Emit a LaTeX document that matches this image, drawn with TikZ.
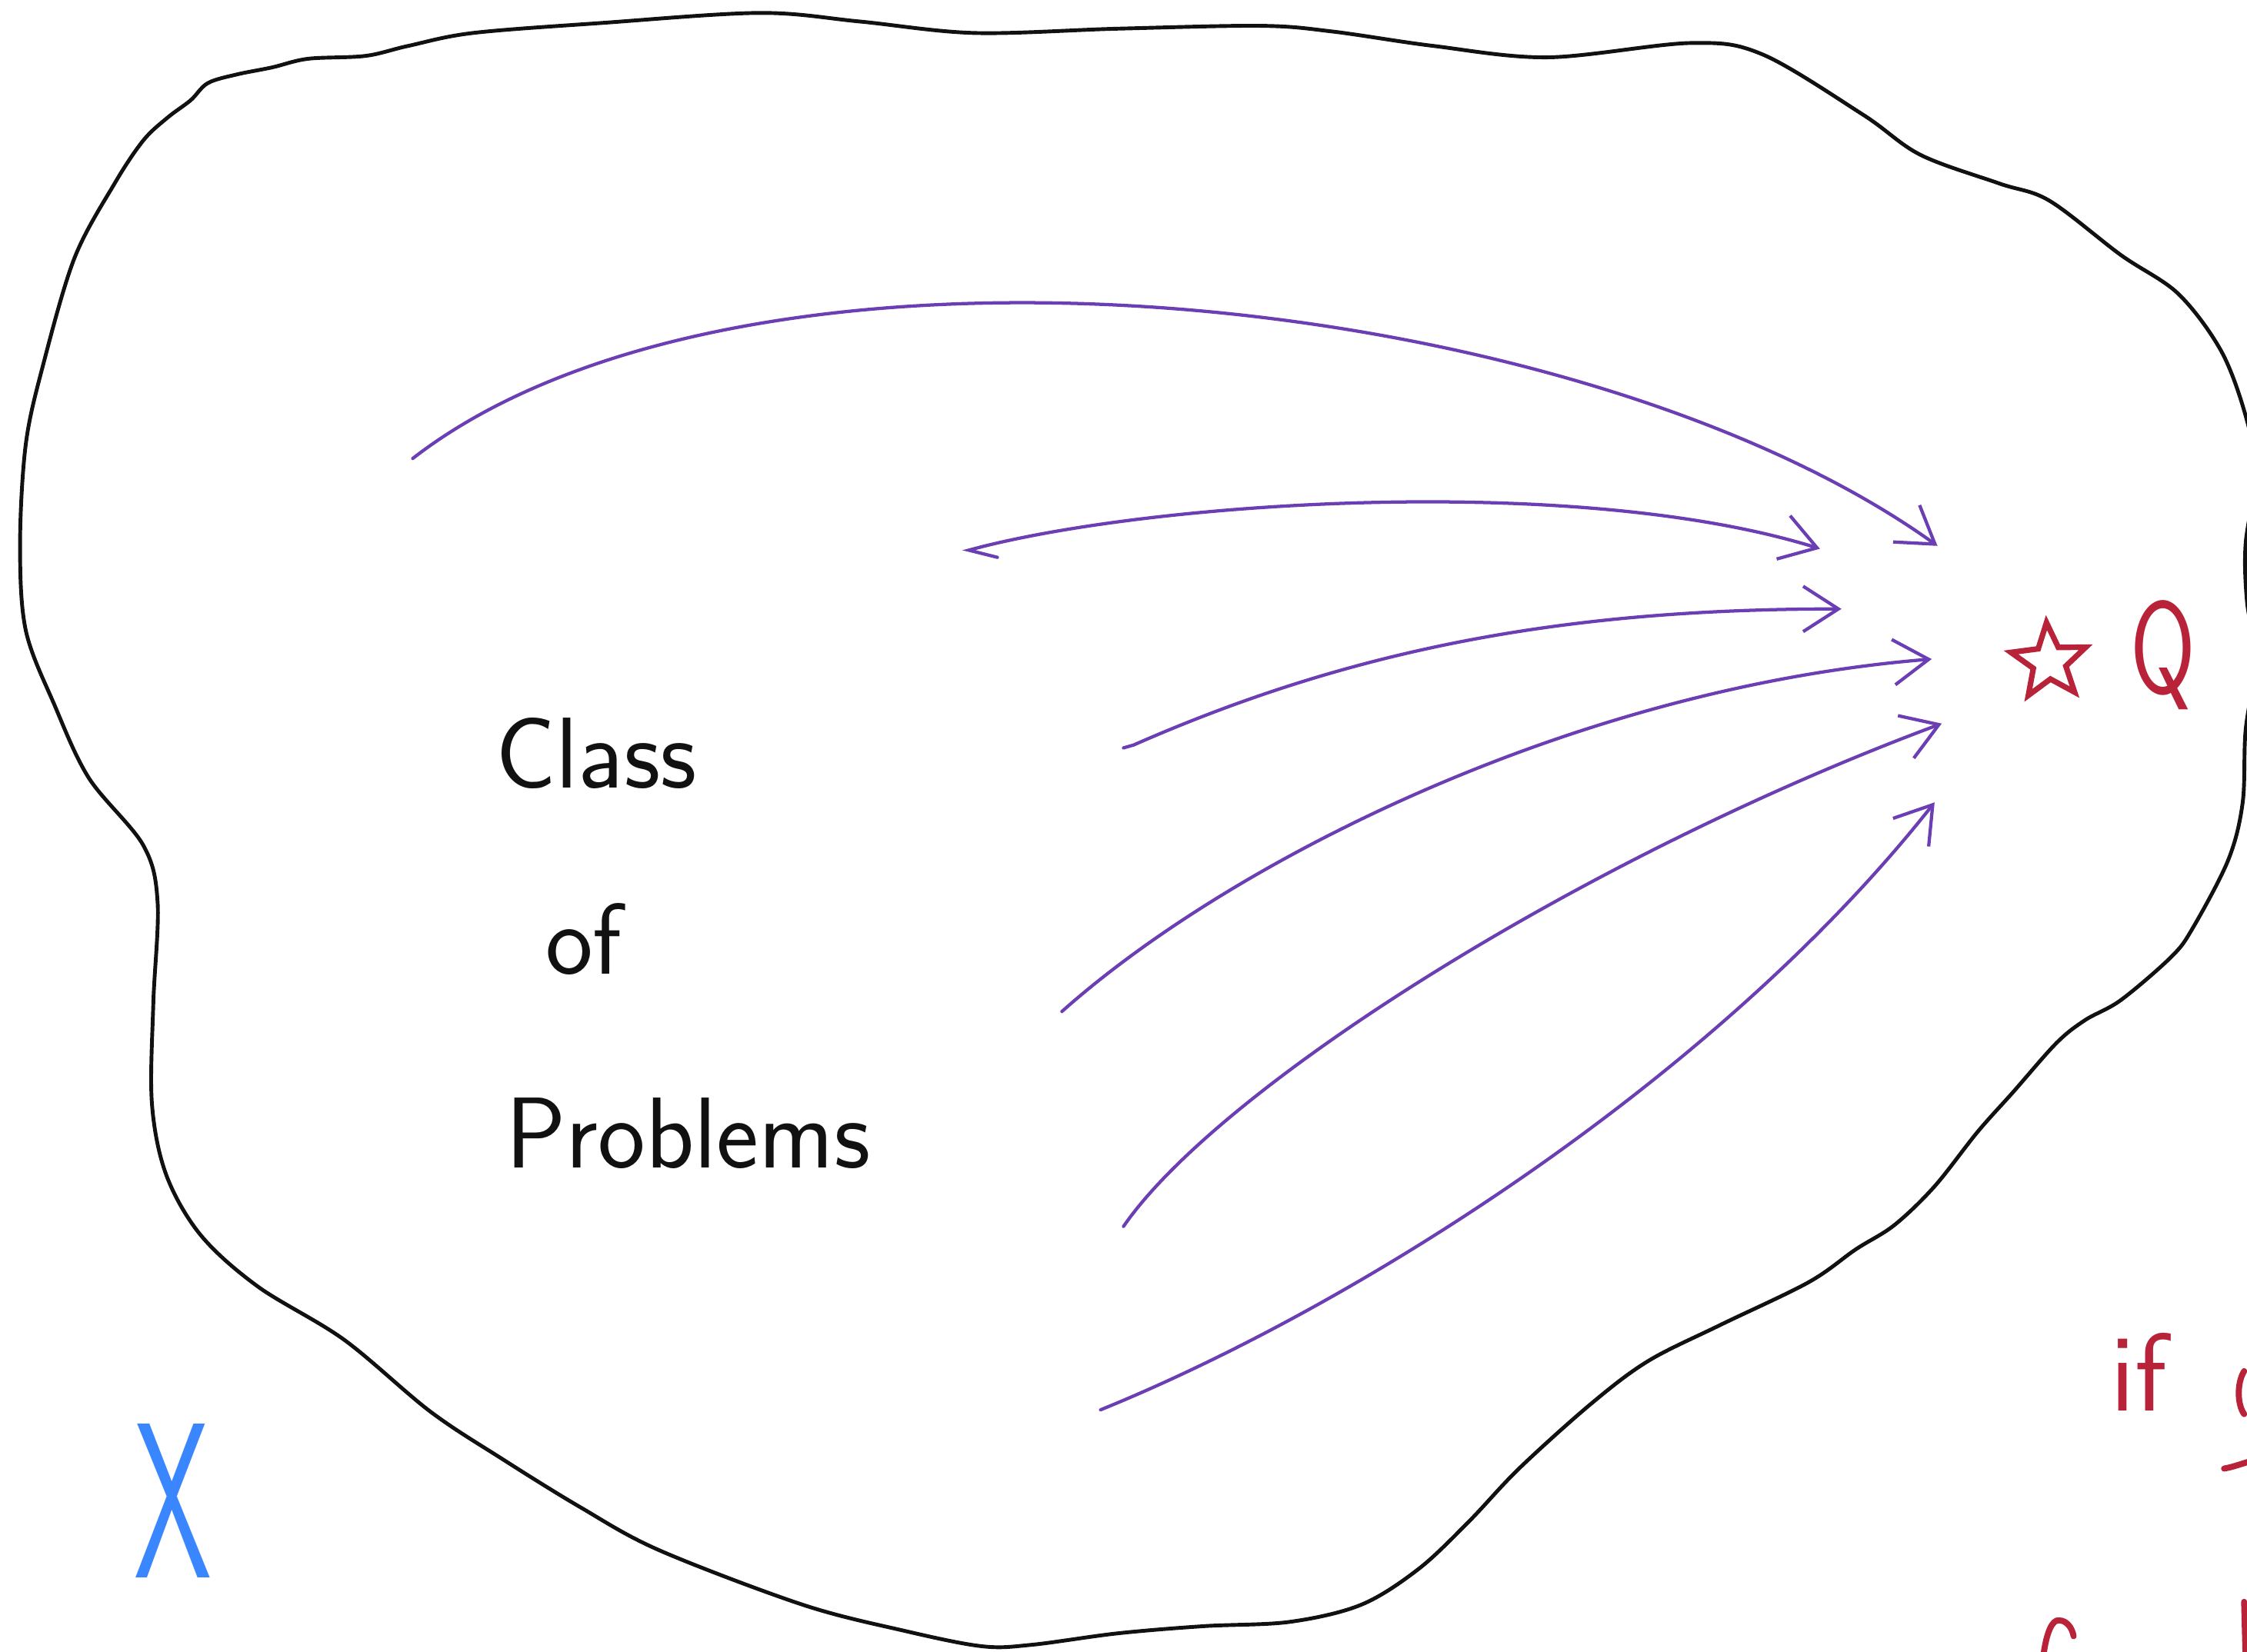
\documentclass[tikz,border=0pt]{standalone}
\usetikzlibrary{arrows.meta,shapes.geometric}
\definecolor{ink}{HTML}{111111}
\definecolor{purp}{HTML}{6B3FB3}
\definecolor{redq}{HTML}{B8233A}
\definecolor{bluex}{HTML}{3A86FF}
\tikzset{
  blob/.style={draw=ink, line width=0.75pt, line join=round},
  parrow/.style={draw=purp, line width=0.65pt, line cap=round, -{Straight Barb[length=7pt,width=9pt,line width=0.65pt]}},
  redstroke/.style={draw=redq, line width=1.2pt, line cap=round},
  hand/.style={inner sep=0pt, font=\sffamily\fontsize{20}{24}\selectfont, text=ink},
}
\begin{document}
\begin{tikzpicture}[x=0.01cm, y=-0.01cm]
\useasboundingbox (0,0) rectangle (1568,1153);
\clip (0,0) rectangle (1568,1153);
% outline of the class
\draw[blob] plot[smooth cycle, tension=0.55] coordinates {
(133,70) (145,58) (165,52) (190,47) (215,41) (255,39) (285,32) (330,23) (420,16) (530,9)
(600,15) (680,23) (780,20) (880,18) (930,22) (1000,32) (1080,40) (1180,30) (1230,38)
(1300,80) (1340,108) (1395,128) (1430,140) (1480,178) (1520,205) (1550,245) (1567,290)
(1574,330) (1567,380) (1568,420) (1574,460) (1567,510) (1565,560) (1555,600) (1530,648)
(1515,668) (1480,698) (1455,712) (1435,728) (1405,762) (1380,790) (1350,828) (1322,855)
(1295,872) (1262,895) (1200,925) (1150,950) (1110,980) (1060,1025) (1025,1062) (990,1095)
(950,1120) (900,1132) (840,1135) (780,1140) (720,1148) (685,1149) (630,1138) (560,1120)
(460,1082) (405,1052) (350,1018) (300,985) (240,935) (180,898) (140,862) (116,820)
(106,770) (107,700) (110,630) (100,590) (62,543) (38,492) (18,440) (14,380) (18,310)
(30,255) (52,180) (80,128) (100,98) (117,82)};
% text inside
\node[hand, anchor=base west] (class) at (345,550) {Class};
\node[hand, anchor=base west] (of) at (380,680) {of};
\node[hand, anchor=base west] (problems) at (352,815) {Problems};
% target
\node[star, star points=5, star point ratio=2.3, draw=redq, line width=1.1pt, minimum size=0.55cm, inner sep=0pt, rotate=4] (star) at (1430,462) {};
\node[inner sep=0pt, anchor=base west, text=redq, font=\sffamily\fontsize{26}{30}\selectfont] (q) at (1486,484) {\scalebox{0.72}[1]{Q}};
% arrows
\coordinate (s1) at (288,320); \coordinate (e1) at (1352,381);
\coordinate (s2) at (676,384); \coordinate (t2) at (696,389); \coordinate (e2) at (1270,383);
\coordinate (s3) at (791,520); \coordinate (t3) at (784,522); \coordinate (e3) at (1285,425);
\coordinate (s4) at (741,706); \coordinate (e4) at (1348,460);
\coordinate (s5) at (784,856); \coordinate (e5) at (1355,505);
\coordinate (s6) at (768,984); \coordinate (e6) at (1350,560);
\draw[parrow] (s1) .. controls (520,140) and (1100,200) .. (e1);
\draw[parrow] (t2) -- (s2) .. controls (800,350) and (1100,330) .. (e2);
\draw[parrow] (t3) -- (s3) .. controls (950,450) and (1100,425) .. (e3);
\draw[parrow] (s4) .. controls (860,600) and (1100,480) .. (e4);
\draw[parrow] (s5) .. controls (850,760) and (1100,600) .. (e5);
\draw[parrow] (s6) .. controls (950,910) and (1200,750) .. (e6);
% blue X
\node[inner sep=0pt, anchor=base, text=bluex, font=\sffamily\fontsize{44}{48}\selectfont] (xset) at (121,1101) {\scalebox{0.56}[1]{X}};
% red text at the right margin
\node[inner sep=0pt, anchor=base west, text=redq, font=\sffamily\fontsize{22}{26}\selectfont] (if) at (1472,985) {if};
\draw[redstroke] (1566,957) .. controls (1561,965) and (1561,980) .. (1566,987);
\draw[redstroke] (1552,1025) .. controls (1558,1024) and (1563,1022) .. (1570,1020);
\draw[redstroke] (1426,1155) .. controls (1428,1140) and (1432,1130) .. (1437,1131) .. controls (1442,1131) and (1446,1136) .. (1447,1142);
\draw[redstroke] (1566,1118) -- (1567,1155);
\end{tikzpicture}
\end{document}
